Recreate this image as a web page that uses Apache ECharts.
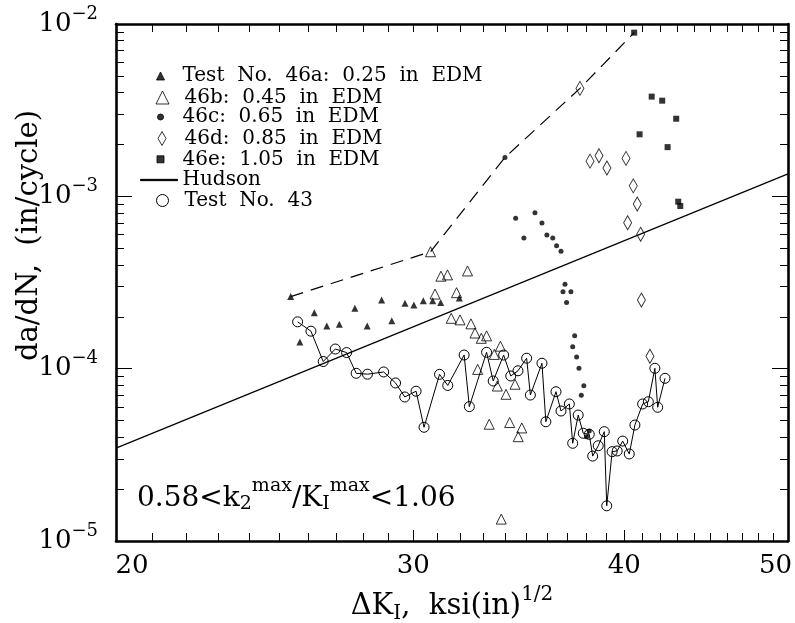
<!DOCTYPE html>
<html>
<head>
<meta charset="utf-8">
<script src="https://cdn.jsdelivr.net/npm/echarts@6.0.0/dist/echarts.min.js"></script>
<style>
html, body { margin: 0; padding: 0; background: #fff; }
#chart { width: 795px; height: 623px; }
</style>
</head>
<body>
<div id="chart"></div>
<script>
// 46a: 0.25 in EDM (filled triangles) - first point starts the dashed envelope
var a46aX = [25.38, 25.70, 26.21, 26.66, 27.12, 27.70, 28.17, 28.73, 29.13, 29.66, 30.02, 30.41, 30.80, 31.14, 31.94];
var a46aY = [2.62e-4, 1.43e-4, 2.11e-4, 1.77e-4, 1.81e-4, 2.24e-4, 1.77e-4, 2.50e-4, 1.90e-4, 2.40e-4, 2.34e-4, 2.48e-4, 2.48e-4, 2.42e-4, 2.57e-4];

// 46b: 0.45 in EDM (open triangles)
var b46bX = [30.71, 30.90, 31.15, 31.43, 31.59, 31.82, 31.97, 32.30, 32.45, 32.63, 32.75, 32.91, 33.15, 33.27, 33.50, 33.64, 33.78, 33.82, 34.04, 34.21, 34.46, 34.61, 34.78];
var b46bY = [4.77e-4, 2.71e-4, 3.44e-4, 3.50e-4, 1.96e-4, 2.76e-4, 1.92e-4, 3.69e-4, 1.82e-4, 1.61e-4, 9.9e-5, 1.50e-4, 1.55e-4, 4.76e-5, 1.21e-4, 7.93e-5, 1.35e-4, 1.34e-5, 7.10e-5, 4.87e-5, 8.12e-5, 4.03e-5, 4.53e-5];

// 46c: 0.65 in EDM (filled circles)
var c46cX = [33.99, 34.49, 34.88, 35.41, 35.75, 35.99, 36.28, 36.47, 36.69, 36.79, 36.89, 36.97, 37.19, 37.28, 37.38, 37.48, 37.60, 37.72, 37.85, 37.99, 38.13];
var c46cY = [1.68e-3, 7.46e-4, 5.73e-4, 8.04e-4, 7.00e-4, 5.97e-4, 5.73e-4, 5.17e-4, 4.80e-4, 2.79e-4, 3.09e-4, 2.42e-4, 2.79e-4, 1.34e-4, 1.55e-4, 1.17e-4, 1.005e-4, 7.01e-5, 7.96e-5, 4.03e-5, 4.35e-5];

// 46d: 0.85 in EDM (open diamonds)
var d46dX = [37.65, 38.17, 38.64, 39.06, 40.09, 40.18, 40.49, 40.71, 40.90, 40.94, 41.42];
var d46dY = [4.23e-3, 1.60e-3, 1.72e-3, 1.46e-3, 1.66e-3, 7.03e-4, 1.15e-3, 9.03e-4, 6.02e-4, 2.50e-4, 1.18e-4];

// 46e: 1.05 in EDM (filled squares)
var e46eX = [40.54, 40.84, 41.52, 42.12, 42.43, 42.93, 43.05, 43.17];
var e46eY = [8.91e-3, 2.29e-3, 3.79e-3, 3.59e-3, 1.93e-3, 2.82e-3, 9.31e-4, 8.79e-4];

// Test No. 43 (open circles joined by a line)
var t43X = [25.62, 26.09, 26.53, 26.97, 27.39, 27.75, 28.18, 28.81, 29.28, 29.65, 30.11, 30.44, 31.09, 31.44, 32.15, 32.38, 33.15, 33.45, 33.93, 34.26, 34.60, 35.01, 35.19, 35.75, 35.94, 36.44, 36.69, 37.11, 37.28, 37.56, 37.82, 38.13, 38.31, 38.60, 38.92, 39.05, 39.34, 39.61, 39.91, 40.27, 40.58, 41.01, 41.33, 41.70, 41.86, 42.28];
var t43Y = [1.87e-4, 1.65e-4, 1.10e-4, 1.30e-4, 1.24e-4, 9.40e-5, 9.29e-5, 9.57e-5, 8.26e-5, 6.85e-5, 7.40e-5, 4.57e-5, 9.27e-5, 7.99e-5, 1.20e-4, 6.02e-5, 1.245e-4, 8.48e-5, 1.20e-4, 9.07e-5, 9.72e-5, 1.15e-4, 7.03e-5, 1.075e-4, 4.92e-5, 7.35e-5, 5.68e-5, 6.24e-5, 3.69e-5, 5.38e-5, 4.22e-5, 4.16e-5, 3.11e-5, 3.57e-5, 4.31e-5, 1.60e-5, 3.30e-5, 3.33e-5, 3.80e-5, 3.20e-5, 4.71e-5, 6.24e-5, 6.43e-5, 1.005e-4, 5.97e-5, 8.79e-5];

// Hudson line
var hudsonX = [20, 50];
var hudsonY = [3.46e-5, 1.35e-3];

// axis ticks
var xMajorTicks = [20, 30, 40, 50];
var xMinorTicks = [21, 22, 23, 24, 25, 26, 27, 28, 29, 31, 32, 33, 34, 35, 36, 37, 38, 39, 41, 42, 43, 44, 45, 46, 47, 48, 49];
var yMajorTicks = [1e-5, 1e-4, 1e-3, 1e-2];
var yMinorTicks = [2e-5, 3e-5, 4e-5, 5e-5, 6e-5, 7e-5, 8e-5, 9e-5,
                   2e-4, 3e-4, 4e-4, 5e-4, 6e-4, 7e-4, 8e-4, 9e-4,
                   2e-3, 3e-3, 4e-3, 5e-3, 6e-3, 7e-3, 8e-3, 9e-3];

var names = ['Test  No.  46a:  0.25  in  EDM', '46b:  0.45  in  EDM', '46c:  0.65  in  EDM',
             '46d:  0.85  in  EDM', '46e:  1.05  in  EDM', 'Hudson', 'Test  No.  43'];

var FONT = 'DejaVu Serif';
var INK = '#000';

function pairs(xs, ys) {
    return xs.map(function (x, i) { return [x, ys[i]]; });
}

// dashed envelope through the first point of each 46 series
var envX = [a46aX[0], b46bX[0], c46cX[0], d46dX[0], e46eX[0]];
var envY = [a46aY[0], b46bY[0], c46cY[0], d46dY[0], e46eY[0]];

function t(size, extra) {
    var s = { fontFamily: FONT, fontSize: size, fontWeight: 'normal', color: INK };
    for (var k in extra) s[k] = extra[k];
    return s;
}

var gridBox = { left: 116, right: 7, top: 24, bottom: 82, containLabel: false, outerBoundsMode: 'none' };

function logX(grid, pos, extra) {
    var a = {
        gridIndex: grid, type: 'log', logBase: 10, min: 20, max: 50, position: pos,
        axisLine: { show: true, onZero: false, lineStyle: { color: INK, width: 2.6 } },
        axisTick: { show: false },
        axisLabel: { show: false },
        splitLine: { show: false }, minorTick: { show: false }, minorSplitLine: { show: false }
    };
    for (var k in extra) a[k] = extra[k];
    return a;
}
function logY(grid, pos, extra) {
    var a = {
        gridIndex: grid, type: 'log', logBase: 10, min: 1e-5, max: 1e-2, position: pos,
        axisLine: { show: true, onZero: false, lineStyle: { color: INK, width: 2.6 } },
        axisTick: { show: false },
        axisLabel: { show: false },
        splitLine: { show: false }, minorTick: { show: false }, minorSplitLine: { show: false }
    };
    for (var k in extra) a[k] = extra[k];
    return a;
}
function ticks(len, values) {
    return { show: true, inside: true, length: len, customValues: values, lineStyle: { color: INK, width: 1 } };
}

// one legend block per row so each symbol gets its own box
function legendRow(name, icon, cx, cy, w, h, keep) {
    var left = cx - w / 2;
    var boxH = Math.max(h, 20);
    return {
        data: [{ name: name, icon: icon }],
        left: left, top: cy - boxH / 2,
        orient: 'vertical', padding: 0, itemGap: 0,
        itemWidth: w, itemHeight: h, symbolKeepAspect: keep,
        selectedMode: false,
        itemStyle: { borderWidth: 1, borderColor: INK },
        textStyle: { fontFamily: FONT, fontSize: 20, lineHeight: 20, color: INK, padding: [0, 0, 0, 182 - (left + w + 5)] }
    };
}

var option = {
    animation: false,
    backgroundColor: '#fff',
    grid: [gridBox, gridBox],
    title: {
        left: 137, top: 477, padding: 0,
        text: '{n|0.58<k}{s|2}{p|max}{n|/K}{s|I}{p|max}{n|<1.06}',
        textStyle: {
            fontWeight: 'normal', fontFamily: FONT,
            rich: {
                n: t(28, {}),
                s: t(19, { padding: [12, 0, 0, 0] }),
                p: t(19, { padding: [0, 0, 24, 0] })
            }
        }
    },
    legend: [
        legendRow(names[0], 'triangle', 160, 76, 8, 8, true),
        legendRow(names[1], 'triangle', 160, 97.5, 13, 13, true),
        legendRow(names[2], 'circle', 160, 117, 6, 6, true),
        legendRow(names[3], 'diamond', 159.5, 138.5, 8, 14, false),
        legendRow(names[4], 'rect', 160, 159.3, 7, 7, true),
        legendRow(names[5], 'rect', 158.5, 180, 37, 1.3, false),
        legendRow(names[6], 'circle', 160, 200.5, 12, 12, true)
    ],
    xAxis: [
        logX(0, 'bottom', {
            axisTick: ticks(11, xMajorTicks),
            axisLabel: {
                show: true, customValues: xMajorTicks, margin: 12,
                formatter: function (v) {
                    var r = Math.round(v);
                    if (r === 20) return '{l|20}';
                    if (r === 50) return '{r|50}';
                    return '{c|' + r + '}';
                },
                rich: {
                    c: t(26, {}),
                    l: t(26, { padding: [0, 0, 0, 32] }),
                    r: t(26, { padding: [0, 25, 0, 0] })
                }
            },
            name: '{m|\u0394K}{s|I}{m|,  ksi(in)}{p|1/2}',
            nameLocation: 'middle', nameGap: 44, nameMoveOverlap: false,
            nameTextStyle: {
                rich: {
                    m: t(29, {}),
                    s: t(20, { padding: [15, 0, 0, 0] }),
                    p: t(20, { padding: [0, 0, 22, 0] })
                }
            }
        }),
        logX(0, 'top', { axisTick: ticks(8, xMinorTicks.concat(xMajorTicks)) }),
        logX(1, 'bottom', { axisLine: { show: false }, axisTick: ticks(8, xMinorTicks) })
    ],
    yAxis: [
        logY(0, 'left', {
            axisTick: ticks(16, yMajorTicks),
            axisLabel: {
                show: true, customValues: yMajorTicks, margin: 18,
                formatter: function (v) {
                    var n = Math.round(Math.log(v) / Math.LN10);
                    return '{b|10}{s|\u2212' + (-n) + '}';
                },
                rich: {
                    b: t(26, {}),
                    s: t(18, { padding: [0, 0, 20, 0] })
                }
            },
            name: 'da/dN,  (in/cycle)',
            nameLocation: 'middle', nameGap: 72, nameMoveOverlap: false,
            nameTextStyle: t(29, { padding: [0, 0, 0, 94] })
        }),
        logY(0, 'right', { axisTick: ticks(16, yMajorTicks) }),
        logY(1, 'left', { axisLine: { show: false }, axisTick: ticks(8, yMinorTicks) }),
        logY(1, 'right', { axisLine: { show: false }, axisTick: ticks(8, yMinorTicks) })
    ],
    series: [
        {
            name: 'envelope', type: 'line', xAxisIndex: 0, yAxisIndex: 0,
            data: pairs(envX, envY), symbol: 'none', silent: true, z: 1,
            lineStyle: { color: INK, width: 1.2, type: [13, 8] }
        },
        {
            name: names[5], type: 'line', xAxisIndex: 0, yAxisIndex: 0,
            data: pairs(hudsonX, hudsonY), symbol: 'none', color: INK, z: 1,
            lineStyle: { color: INK, width: 1.2 }
        },
        {
            name: names[6], type: 'line', xAxisIndex: 0, yAxisIndex: 0,
            data: pairs(t43X, t43Y), symbol: 'circle', symbolSize: 10, showSymbol: true, z: 2,
            itemStyle: { color: 'none', borderColor: INK, borderWidth: 1 },
            lineStyle: { color: INK, width: 1 }
        },
        {
            name: names[0], type: 'scatter', xAxisIndex: 0, yAxisIndex: 0,
            data: pairs(a46aX, a46aY), symbol: 'triangle', symbolSize: 7, z: 3,
            itemStyle: { color: INK, borderWidth: 0 }
        },
        {
            name: names[1], type: 'scatter', xAxisIndex: 0, yAxisIndex: 0,
            data: pairs(b46bX, b46bY), symbol: 'triangle', symbolSize: 10, z: 3,
            itemStyle: { color: 'none', borderColor: INK, borderWidth: 1 }
        },
        {
            name: names[2], type: 'scatter', xAxisIndex: 0, yAxisIndex: 0,
            data: pairs(c46cX, c46cY), symbol: 'circle', symbolSize: 5, z: 3,
            itemStyle: { color: INK, borderWidth: 0 }
        },
        {
            name: names[3], type: 'scatter', xAxisIndex: 0, yAxisIndex: 0,
            data: pairs(d46dX, d46dY), symbol: 'diamond', symbolSize: [8, 14], z: 3,
            itemStyle: { color: 'none', borderColor: INK, borderWidth: 1 }
        },
        {
            name: names[4], type: 'scatter', xAxisIndex: 0, yAxisIndex: 0,
            data: pairs(e46eX, e46eY), symbol: 'rect', symbolSize: 6, z: 3,
            itemStyle: { color: INK, borderWidth: 0 }
        }
    ]
};

var chart = echarts.init(document.getElementById('chart'), null, { renderer: 'canvas', width: 795, height: 623 });
chart.setOption(option);
</script>
</body>
</html>
